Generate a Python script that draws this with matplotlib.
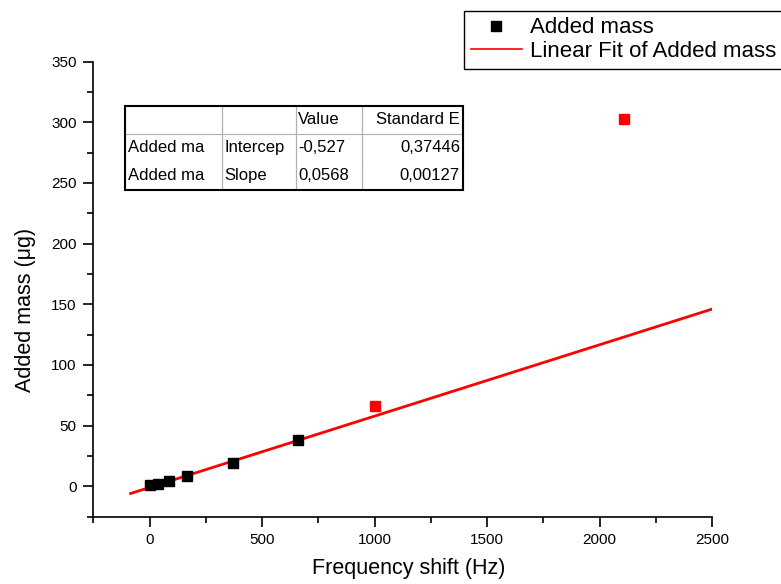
import numpy as np
import matplotlib
matplotlib.use('Agg')
import matplotlib.pyplot as plt
from matplotlib.ticker import MultipleLocator
from matplotlib.lines import Line2D
from matplotlib.patches import Rectangle

plt.rcParams['font.family'] = ['Liberation Sans', 'DejaVu Sans']

# --- data ---
freq_used = [0, 37, 87, 166, 370, 658]          # Hz, points used in fit
mass_used = [0.8, 2.2, 4.6, 8.0, 19.5, 38.0]    # µg
freq_masked = [1003, 2107]                      # points excluded (red)
mass_masked = [66, 303]

fit_x = [-84, 2500]
fit_y = [-6, 146]

table_cols = ["", "", "Value", "Standard E"]
table_rows = [["Added ma", "Intercep", "-0,527", "0,37446"],
              ["Added ma", "Slope", "0,0568", "0,00127"]]

W, H = 781, 584
fig = plt.figure(figsize=(W / 100, H / 100), dpi=100)
ax = fig.add_axes([93.3 / W, 1 - 516.5 / H, (712 - 93.3) / W, (516.5 - 61.7) / H])

ax.plot(fit_x, fit_y, color='red', lw=2, zorder=2)
ax.plot(freq_used, mass_used, 's', color='black', ms=7, zorder=3)
ax.plot(freq_masked, mass_masked, 's', color='red', ms=7, zorder=3)

ax.set_xlim(-250, 2500)
ax.set_ylim(-25, 350)
ax.xaxis.set_major_locator(MultipleLocator(500))
ax.xaxis.set_minor_locator(MultipleLocator(250))
ax.yaxis.set_major_locator(MultipleLocator(50))
ax.yaxis.set_minor_locator(MultipleLocator(25))
ax.set_xticks([0, 500, 1000, 1500, 2000, 2500])

ax.spines['top'].set_visible(False)
ax.spines['right'].set_visible(False)
for s in ['left', 'bottom']:
    ax.spines[s].set_linewidth(1.2)
ax.tick_params(which='major', direction='out', length=7, width=1.2, labelsize=11, pad=5)
ax.tick_params(which='minor', direction='out', length=4, width=1.2)

ax.set_xlabel("Frequency shift (Hz)", fontsize=15.5)
ax.set_ylabel("Added mass (\u03bcg)", fontsize=15.5)
ax.xaxis.set_label_coords(0.510, -0.092)
ax.yaxis.set_label_coords(-0.092, 0.454)

# --- fit result table ---
tb_left, tb_bottom, tb_w, tb_h = 0.0512, 0.7179, 0.5463, 0.1847
tbl = ax.table(cellText=table_rows, colLabels=table_cols, cellLoc='left', colLoc='left',
               colWidths=[0.287, 0.219, 0.195, 0.299],
               bbox=[tb_left, tb_bottom, tb_w, tb_h], zorder=5)
tbl.auto_set_font_size(False)
tbl.set_fontsize(12)
for (r, c), cell in tbl.get_celld().items():
    cell.set_edgecolor('#b0b0b0')
    cell.set_linewidth(0.8)
    cell.visible_edges = 'LRB' if r == 0 else 'LR'
    cell.PAD = 0.03
    if c == 3:
        cell.get_text().set_ha('right')
        cell._loc = 'right'
ax.add_patch(Rectangle((tb_left, tb_bottom), tb_w, tb_h, transform=ax.transAxes,
                       fill=False, edgecolor='black', lw=1.5, zorder=6))

# --- legend (runs off the right edge like the original) ---
handles = [Line2D([], [], ls='none', marker='s', color='black', ms=7),
           Line2D([], [], color='red', lw=1.2)]
leg = fig.legend(handles, ["Added mass", "Linear Fit of Added mass"],
                 loc='upper left', bbox_to_anchor=(464 / W, 1 - 10.7 / H),
                 fontsize=16, frameon=True, fancybox=False, edgecolor='black',
                 framealpha=1, borderaxespad=0, borderpad=0.3,
                 handlelength=2.3, handletextpad=0.35, labelspacing=0.12)
leg.get_frame().set_linewidth(1.0)

fig.savefig("out.png", dpi=100)
